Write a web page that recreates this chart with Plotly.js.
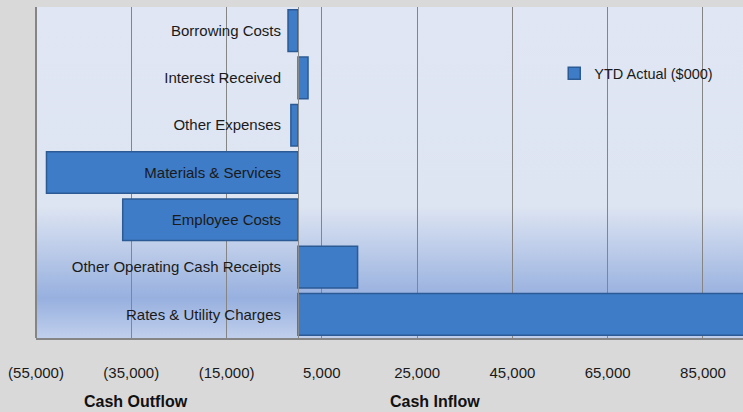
<!DOCTYPE html>
<html>
<head>
<meta charset="utf-8">
<script src="https://cdn.plot.ly/plotly-3.0.1.min.js"></script>
<style>html,body{margin:0;padding:0;background:#d9d9d9;}#chart{width:743px;height:412px;}</style>
</head>
<body>
<div id="chart"></div>
<script>
// Data (bottom to top)
var categories = ["Rates & Utility Charges", "Other Operating Cash Receipts", "Employee Costs", "Materials & Services", "Other Expenses", "Interest Received", "Borrowing Costs"];
var ytdActual = [94000, 12500, -36800, -52800, -1500, 2100, -2100];
var seriesName = "YTD Actual ($000)";
var tickValues = [-55000, -35000, -15000, 5000, 25000, 45000, 65000, 85000];
var tickLabels = ["(55,000)", "(35,000)", "(15,000)", "5,000", "25,000", "45,000", "65,000", "85,000"];
var xMin = -55000, xMax = 93400;

var font = "'Liberation Sans Narrow', 'Liberation Sans', sans-serif";

var grad = '<svg xmlns="http://www.w3.org/2000/svg" width="10" height="100" preserveAspectRatio="none" viewBox="0 0 10 100">' +
  '<defs><linearGradient id="g" x1="0" y1="0" x2="0" y2="1">' +
  '<stop offset="0" stop-color="#e0e6f3"/>' +
  '<stop offset="0.60" stop-color="#dee5f2"/>' +
  '<stop offset="0.88" stop-color="#97b0df"/>' +
  '<stop offset="1" stop-color="#c0cfec"/>' +
  '</linearGradient></defs><rect width="10" height="100" fill="url(#g)"/></svg>';
var gradUri = 'data:image/svg+xml;base64,' + btoa(grad);

var trace = {
  type: 'bar',
  orientation: 'h',
  y: categories,
  x: ytdActual,
  name: seriesName,
  width: 0.88,
  marker: {color: '#3f7cc7', line: {color: '#2b5a95', width: 1.5}},
  showlegend: true
};

var layout = {
  width: 743, height: 412,
  margin: {l: 35.5, r: 0, t: 7, b: 74},
  paper_bgcolor: '#d9d9d9',
  plot_bgcolor: 'rgba(0,0,0,0)',
  font: {family: font, size: 15, color: '#1a1a1a'},
  bargap: 0.12,
  xaxis: {
    range: [xMin, xMax],
    tickvals: tickValues,
    ticktext: tickLabels,
    showgrid: true, gridcolor: '#858585', gridwidth: 1,
    zeroline: false,
    ticks: '', ticklabelstandoff: 20,
    showline: true, linecolor: '#858585', linewidth: 2,
    tickfont: {family: font, size: 15, color: '#1a1a1a'},
    fixedrange: true
  },
  yaxis: {
    type: 'category',
    categoryorder: 'array', categoryarray: categories,
    anchor: 'free',
    position: (0 - xMin) / (xMax - xMin),
    showgrid: false, zeroline: false,
    showline: true, linecolor: '#8a8a8a', linewidth: 1,
    ticks: '', ticklabelstandoff: 14,
    tickfont: {family: font, size: 15, color: '#1a1a1a'},
    range: [-0.5, 6.5]
  },
  legend: {
    x: 0.733, y: 0.80, xanchor: 'left', yanchor: 'middle',
    bgcolor: 'rgba(0,0,0,0)',
    font: {family: font, size: 14.5, color: '#1a1a1a'},
    itemwidth: 30
  },
  images: [{
    source: gradUri, xref: 'paper', yref: 'paper', x: 0, y: 1, sizex: 1, sizey: 1,
    xanchor: 'left', yanchor: 'top', sizing: 'stretch', layer: 'below'
  }],
  shapes: [{
    type: 'line', xref: 'paper', yref: 'paper', x0: 0, x1: 0, y0: 0, y1: 1,
    line: {color: '#858585', width: 2}, layer: 'above'
  }],
  annotations: [
    {text: '<b>Cash Outflow</b>', xref: 'paper', yref: 'paper', x: 0.142, y: -0.193, xanchor: 'center', yanchor: 'middle', showarrow: false, font: {family: font, size: 16, color: '#111'}},
    {text: '<b>Cash Inflow</b>', xref: 'paper', yref: 'paper', x: 0.565, y: -0.193, xanchor: 'center', yanchor: 'middle', showarrow: false, font: {family: font, size: 16, color: '#111'}}
  ]
};

Plotly.newPlot('chart', [trace], layout, {displayModeBar: false, staticPlot: true});
</script>
</body>
</html>
